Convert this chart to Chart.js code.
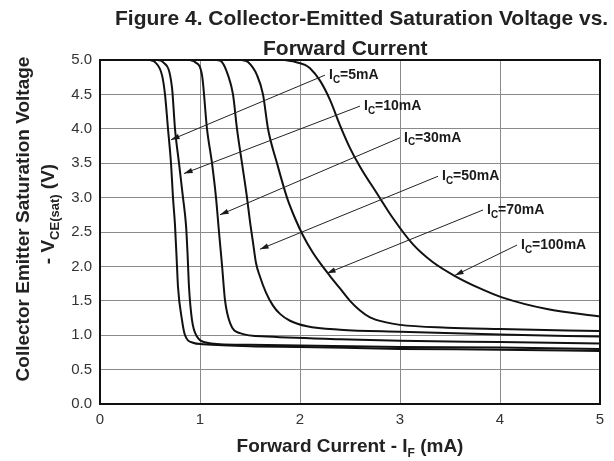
<!DOCTYPE html>
<html>
<head>
<meta charset="utf-8">
<script src="https://cdn.jsdelivr.net/npm/chart.js@4.4.1/dist/chart.umd.min.js"></script>
<style>
  html, body { margin: 0; padding: 0; background: #fff; }
  #wrap { width: 614px; height: 461px; }
</style>
</head>
<body>
<div id="wrap"><canvas id="chart" width="614" height="461"></canvas></div>
<script>
// Curves: forward current (mA) vs VCE(sat) (V)
const ic5x = [0.50, 0.55, 0.62, 0.65, 0.68, 0.71, 0.73, 0.75, 0.77, 0.78, 0.82, 0.85, 0.93, 1.03, 1.5, 2, 3, 4, 5];
const ic5y = [5.00, 4.97, 4.78, 4.50, 4.00, 3.50, 3.00, 2.60, 2.00, 1.70, 1.22, 1.00, 0.89, 0.87, 0.84, 0.83, 0.80, 0.79, 0.77];

const ic10x = [0.58, 0.63, 0.72, 0.75, 0.79, 0.83, 0.86, 0.875, 0.89, 0.92, 0.97, 1.07, 1.2, 1.5, 2, 3, 4, 5];
const ic10y = [5.00, 4.97, 4.60, 4.00, 3.50, 3.00, 2.60, 2.20, 1.70, 1.22, 0.98, 0.89, 0.87, 0.86, 0.85, 0.83, 0.82, 0.80];

const ic30x = [0.90, 0.95, 1.02, 1.07, 1.12, 1.16, 1.19, 1.22, 1.25, 1.30, 1.40, 1.67, 2.4, 3, 4, 5];
const ic30y = [5.00, 4.97, 4.78, 4.00, 3.50, 3.00, 2.50, 2.02, 1.51, 1.18, 1.03, 0.98, 0.94, 0.92, 0.90, 0.88];

const ic50x = [1.17, 1.22, 1.28, 1.33, 1.37, 1.42, 1.47, 1.50, 1.53, 1.56, 1.60, 1.66, 1.73, 1.80, 1.90, 2.07, 2.4, 3, 4, 5];
const ic50y = [5.00, 4.97, 4.78, 4.50, 4.00, 3.50, 3.00, 2.65, 2.35, 2.05, 1.85, 1.62, 1.43, 1.31, 1.21, 1.13, 1.08, 1.05, 1.01, 0.98];

const ic70x = [1.42, 1.48, 1.57, 1.63, 1.68, 1.77, 1.87, 1.95, 2.03, 2.12, 2.20, 2.30, 2.40, 2.50, 2.60, 2.70, 2.85, 3.00, 3.47, 4, 5];
const ic70y = [5.00, 4.97, 4.78, 4.50, 4.00, 3.50, 3.00, 2.70, 2.45, 2.22, 2.05, 1.86, 1.68, 1.50, 1.36, 1.26, 1.19, 1.15, 1.11, 1.09, 1.06];

const ic100x = [1.85, 1.93, 2.05, 2.10, 2.20, 2.30, 2.40, 2.50, 2.60, 2.77, 2.93, 3.13, 3.33, 3.55, 3.80, 4.02, 4.47, 5];
const ic100y = [5.00, 4.98, 4.93, 4.88, 4.70, 4.42, 4.05, 3.72, 3.45, 3.06, 2.70, 2.32, 2.06, 1.86, 1.68, 1.55, 1.38, 1.27];

// Callout labels: text, arrow tip on curve, line end near the text
const labelCurrents = ["5", "10", "30", "50", "70", "100"];
const tipX = [0.71, 0.84, 1.20, 1.60, 2.27, 3.55];
const tipY = [3.84, 3.35, 2.75, 2.25, 1.90, 1.87];
const endX = [2.25, 2.60, 3.00, 3.38, 3.83, 4.17];
const endY = [4.78, 4.33, 3.87, 3.31, 2.82, 2.31];

const yTicks = [0, 0.5, 1, 1.5, 2, 2.5, 3, 3.5, 4, 4.5, 5];
const xTicks = [0, 1, 2, 3, 4, 5];

function pts(xs, ys) {
  return xs.map((x, i) => ({ x: x, y: ys[i] }));
}

function curve(label, xs, ys) {
  return {
    label: label,
    data: pts(xs, ys),
    borderColor: "#111",
    borderWidth: 2,
    pointRadius: 0,
    fill: false,
    cubicInterpolationMode: "monotone"
  };
}

// Draws main text + subscript + rest at (x, y), returns end x
function subText(ctx, x, y, main, sub, rest, size, subSize, drop) {
  ctx.font = "bold " + size + "px 'Liberation Sans', Arial, sans-serif";
  ctx.fillText(main, x, y);
  x += ctx.measureText(main).width;
  ctx.font = "bold " + subSize + "px 'Liberation Sans', Arial, sans-serif";
  ctx.fillText(sub, x, y + drop);
  x += ctx.measureText(sub).width;
  ctx.font = "bold " + size + "px 'Liberation Sans', Arial, sans-serif";
  ctx.fillText(rest, x, y);
  return x + ctx.measureText(rest).width;
}

function subWidth(ctx, main, sub, rest, size, subSize) {
  ctx.font = "bold " + size + "px 'Liberation Sans', Arial, sans-serif";
  let w = ctx.measureText(main).width + ctx.measureText(rest).width;
  ctx.font = "bold " + subSize + "px 'Liberation Sans', Arial, sans-serif";
  return w + ctx.measureText(sub).width;
}

const decor = {
  id: "decor",
  afterDatasetsDraw(chart) {
    const ctx = chart.ctx;
    const a = chart.chartArea;
    const sx = chart.scales.x, sy = chart.scales.y;
    ctx.save();

    // frame
    ctx.strokeStyle = "#111";
    ctx.lineWidth = 2;
    ctx.strokeRect(a.left, a.top, a.right - a.left, a.bottom - a.top);

    // callouts
    ctx.fillStyle = "#1a1a1a";
    ctx.textBaseline = "middle";
    for (let i = 0; i < labelCurrents.length; i++) {
      const x1 = sx.getPixelForValue(tipX[i]), y1 = sy.getPixelForValue(tipY[i]);
      const x2 = sx.getPixelForValue(endX[i]), y2 = sy.getPixelForValue(endY[i]);
      ctx.strokeStyle = "#222";
      ctx.lineWidth = 1;
      ctx.beginPath();
      ctx.moveTo(x2, y2);
      ctx.lineTo(x1, y1);
      ctx.stroke();
      const ang = Math.atan2(y1 - y2, x1 - x2);
      ctx.beginPath();
      ctx.moveTo(x1, y1);
      ctx.lineTo(x1 - 9 * Math.cos(ang - 0.3), y1 - 9 * Math.sin(ang - 0.3));
      ctx.lineTo(x1 - 9 * Math.cos(ang + 0.3), y1 - 9 * Math.sin(ang + 0.3));
      ctx.closePath();
      ctx.fill();
      subText(ctx, x2 + 4, y2, "I", "C", "=" + labelCurrents[i] + "mA", 14, 10, 5);
    }

    // title
    ctx.fillStyle = "#222";
    ctx.textBaseline = "alphabetic";
    ctx.textAlign = "left";
    ctx.font = "bold 21px 'Liberation Sans', Arial, sans-serif";
    ctx.fillText("Figure 4. Collector-Emitted Saturation Voltage vs.", 115, 25);
    ctx.fillText("Forward Current", 263, 55);

    // x axis title
    const xt = subWidth(ctx, "Forward Current - I", "F", " (mA)", 19, 12);
    subText(ctx, (a.left + a.right) / 2 - xt / 2, 452, "Forward Current - I", "F", " (mA)", 19, 12, 5);

    // y axis title (two rotated lines)
    ctx.save();
    ctx.translate(29, 219);
    ctx.rotate(-Math.PI / 2);
    ctx.font = "bold 19px 'Liberation Sans', Arial, sans-serif";
    ctx.textAlign = "center";
    ctx.fillText("Collector Emitter Saturation Voltage", 0, 0);
    ctx.restore();

    ctx.save();
    ctx.translate(54, 214);
    ctx.rotate(-Math.PI / 2);
    ctx.textAlign = "left";
    const yt = subWidth(ctx, "- V", "CE(sat)", " (V)", 19, 13);
    subText(ctx, -yt / 2, 0, "- V", "CE(sat)", " (V)", 19, 13, 5);
    ctx.restore();

    ctx.restore();
  }
};

new Chart(document.getElementById("chart").getContext("2d"), {
  type: "line",
  data: {
    datasets: [
      curve("IC=5mA", ic5x, ic5y),
      curve("IC=10mA", ic10x, ic10y),
      curve("IC=30mA", ic30x, ic30y),
      curve("IC=50mA", ic50x, ic50y),
      curve("IC=70mA", ic70x, ic70y),
      curve("IC=100mA", ic100x, ic100y)
    ]
  },
  options: {
    responsive: false,
    animation: false,
    devicePixelRatio: 1,
    layout: { padding: { top: 60, right: 14, left: 0, bottom: 0 } },
    plugins: { legend: { display: false }, tooltip: { enabled: false }, title: { display: false } },
    scales: {
      x: {
        type: "linear",
        min: 0, max: 5,
        afterFit: s => { s.height = 57; },
        afterBuildTicks: s => { s.ticks = xTicks.map(v => ({ value: v })); },
        grid: { color: "#8a8a8a", lineWidth: 1, drawTicks: false },
        border: { display: false },
        ticks: {
          padding: 7,
          color: "#333",
          font: { family: "'Liberation Sans', Arial, sans-serif", size: 15 },
          callback: v => String(v)
        }
      },
      y: {
        type: "linear",
        min: 0, max: 5,
        afterFit: s => { s.width = 100; },
        afterBuildTicks: s => { s.ticks = yTicks.map(v => ({ value: v })); },
        grid: { color: "#8a8a8a", lineWidth: 1, drawTicks: false },
        border: { display: false },
        ticks: {
          padding: 8,
          color: "#333",
          font: { family: "'Liberation Sans', Arial, sans-serif", size: 15 },
          callback: v => Number(v).toFixed(1)
        }
      }
    }
  },
  plugins: [decor]
});
</script>
</body>
</html>
